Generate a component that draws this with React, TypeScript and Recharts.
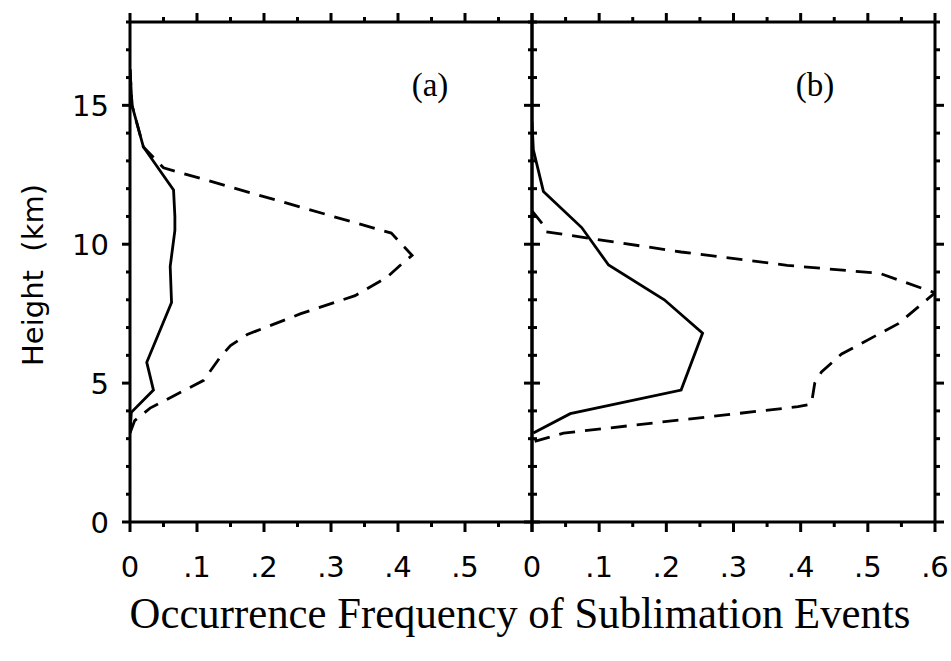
import { LineChart, Line, XAxis, YAxis } from "recharts";

// heights (km) and occurrence frequencies read along each profile, top to bottom
const aSolidH = [16.3, 15.0, 13.5, 11.95, 11.0, 10.5, 9.2, 7.9, 5.75, 4.75, 3.95, 3.2];
const aSolidF = [0, 0.003, 0.02, 0.065, 0.067, 0.067, 0.06, 0.062, 0.025, 0.035, 0.002, 0];

const aDashH = [16.3, 15.0, 13.5, 12.75, 10.4, 9.6, 9.3, 8.8, 8.15, 7.5, 6.75, 6.35, 5.95, 5.1, 4.1, 3.65, 3.2];
const aDashF = [0, 0.003, 0.02, 0.05, 0.39, 0.421, 0.406, 0.383, 0.336, 0.255, 0.175, 0.15, 0.135, 0.11, 0.03, 0.007, 0];

const bSolidH = [14.4, 13.4, 11.9, 10.6, 9.25, 8.0, 6.8, 4.75, 3.9, 3.2];
const bSolidF = [0, 0.002, 0.017, 0.074, 0.114, 0.197, 0.254, 0.222, 0.057, 0.002];

const bDashH = [11.2, 10.75, 10.45, 9.72, 9.24, 8.95, 8.25, 7.15, 6.05, 5.4, 5.0, 4.25, 4.15, 3.2, 2.9];
const bDashF = [0, 0.015, 0.02, 0.222, 0.38, 0.518, 0.6, 0.546, 0.461, 0.431, 0.421, 0.416, 0.396, 0.047, 0.004];

const heightTicks = [0, 1, 2, 3, 4, 5, 6, 7, 8, 9, 10, 11, 12, 13, 14, 15, 16, 17, 18];
const heightLabels = ["0", "5", "10", "15"];
const freqTicks = [0, 0.05, 0.1, 0.15, 0.2, 0.25, 0.3, 0.35, 0.4, 0.45, 0.5, 0.55, 0.6];
const freqLabelsA = ["0", ".1", ".2", ".3", ".4", ".5"];
const freqLabelsB = ["0", ".1", ".2", ".3", ".4", ".5", ".6"];

const rows = (hs: number[], fs: number[]) => hs.map((h, i) => ({ h, f: fs[i] }));

const SANS = "DejaVu Sans";
const SERIF = "Liberation Serif";
const AX = 3;
const LW = 2.8;

const majorF = (v: number) => Math.abs(v * 10 - Math.round(v * 10)) < 1e-6;
const majorH = (v: number) => v % 5 === 0;

function BottomTick(props: any) {
  const { x, y, payload, labels } = props;
  const v = payload.value;
  const major = majorF(v);
  const label = major ? labels[Math.round(v * 10)] : undefined;
  return (
    <g>
      <line x1={x} x2={x} y1={y} y2={y + (major ? 10 : 5)} stroke="#000" strokeWidth={AX} />
      {label && (
        <text x={x} y={y + 55} textAnchor="middle" fontSize={29} fontFamily={SANS} fill="#000">
          {label}
        </text>
      )}
    </g>
  );
}

function TopTick(props: any) {
  const { x, y, payload } = props;
  const major = majorF(payload.value);
  return <line x1={x} x2={x} y1={y} y2={y - (major ? 9 : 5)} stroke="#000" strokeWidth={AX} />;
}

function LeftTick(props: any) {
  const { x, y, payload, showLabels } = props;
  const v = payload.value;
  const major = majorH(v);
  return (
    <g>
      <line x1={x - (major ? 8 : 4)} x2={x} y1={y} y2={y} stroke="#000" strokeWidth={AX} />
      {showLabels && major && (
        <text x={x - 21} y={y + 11} textAnchor="end" fontSize={29} fontFamily={SANS} fill="#000">
          {heightLabels[v / 5]}
        </text>
      )}
    </g>
  );
}

function RightTick(props: any) {
  const { x, y, payload } = props;
  const major = majorH(payload.value);
  return <line x1={x} x2={x + (major ? 9 : 5)} y1={y} y2={y} stroke="#000" strokeWidth={AX} />;
}

function Panel(props: {
  left: number;
  width: number;
  leftAxisWidth: number;
  rightAxisWidth: number;
  solid: { h: number; f: number }[];
  dashed: { h: number; f: number }[];
  labels: string[];
  showHeightLabels: boolean;
}) {
  const { left, width, leftAxisWidth, rightAxisWidth, solid, dashed, labels, showHeightLabels } = props;
  return (
    <LineChart
      width={width}
      height={661}
      layout="vertical"
      margin={{ top: 0, right: 0, bottom: 0, left: 0 }}
      style={{ position: "absolute", left, top: 0 }}
    >
      <XAxis
        xAxisId="bottom"
        orientation="bottom"
        type="number"
        domain={[0, 0.6]}
        ticks={freqTicks}
        interval={0}
        allowDataOverflow
        height={139}
        tickSize={0}
        tickMargin={0}
        tickLine={false}
        axisLine={{ stroke: "#000", strokeWidth: AX }}
        tick={(p: any) => <BottomTick {...p} labels={labels} />}
      />
      <XAxis
        xAxisId="top"
        orientation="top"
        type="number"
        domain={[0, 0.6]}
        ticks={freqTicks}
        interval={0}
        allowDataOverflow
        height={22}
        tickSize={0}
        tickMargin={0}
        tickLine={false}
        axisLine={{ stroke: "#000", strokeWidth: AX }}
        tick={(p: any) => <TopTick {...p} />}
      />
      {/* height grows upwards: the vertical layout runs the y scale top-down by default */}
      <YAxis
        yAxisId="left"
        orientation="left"
        type="number"
        dataKey="h"
        domain={[0, 18]}
        reversed
        ticks={heightTicks}
        interval={0}
        allowDataOverflow
        width={leftAxisWidth}
        tickSize={0}
        tickMargin={0}
        tickLine={false}
        axisLine={{ stroke: "#000", strokeWidth: AX }}
        tick={(p: any) => <LeftTick {...p} showLabels={showHeightLabels} />}
      />
      <YAxis
        yAxisId="right"
        orientation="right"
        type="number"
        dataKey="h"
        domain={[0, 18]}
        reversed
        ticks={heightTicks}
        interval={0}
        allowDataOverflow
        width={rightAxisWidth}
        tickSize={0}
        tickMargin={0}
        tickLine={false}
        axisLine={{ stroke: "#000", strokeWidth: AX }}
        tick={(p: any) => <RightTick {...p} />}
      />
      <Line
        xAxisId="bottom"
        yAxisId="left"
        data={dashed}
        dataKey="f"
        type="linear"
        stroke="#000"
        strokeWidth={LW}
        strokeDasharray="16 10"
        dot={false}
        isAnimationActive={false}
      />
      <Line
        xAxisId="bottom"
        yAxisId="left"
        data={solid}
        dataKey="f"
        type="linear"
        stroke="#000"
        strokeWidth={LW}
        dot={false}
        isAnimationActive={false}
      />
    </LineChart>
  );
}

export default function App() {
  return (
    <div style={{ position: "absolute", left: 0, top: 0, width: 951, height: 661, background: "#fff" }}>
      <Panel
        left={0}
        width={540}
        leftAxisWidth={130}
        rightAxisWidth={8}
        solid={rows(aSolidH, aSolidF)}
        dashed={rows(aDashH, aDashF)}
        labels={freqLabelsA}
        showHeightLabels
      />
      <Panel
        left={520}
        width={431}
        leftAxisWidth={12}
        rightAxisWidth={16}
        solid={rows(bSolidH, bSolidF)}
        dashed={rows(bDashH, bDashF)}
        labels={freqLabelsB}
        showHeightLabels={false}
      />
      <svg width={951} height={661} style={{ position: "absolute", left: 0, top: 0, pointerEvents: "none" }}>
        <text
          transform="translate(43,275) rotate(-90)"
          textAnchor="middle"
          fontSize={29}
          fontFamily={SANS}
          fill="#000"
          style={{ whiteSpace: "pre" }}
        >
          {"Height  (km)"}
        </text>
        <text x={430} y={96} textAnchor="middle" fontSize={33} fontFamily={SERIF} fill="#000">
          (a)
        </text>
        <text x={815} y={96} textAnchor="middle" fontSize={33} fontFamily={SERIF} fill="#000">
          (b)
        </text>
        {/* title set slightly condensed */}
        <text
          transform="translate(520,628) scale(0.95,1)"
          textAnchor="middle"
          fontSize={45}
          fontFamily={SERIF}
          fill="#000"
        >
          Occurrence Frequency of Sublimation Events
        </text>
      </svg>
    </div>
  );
}
